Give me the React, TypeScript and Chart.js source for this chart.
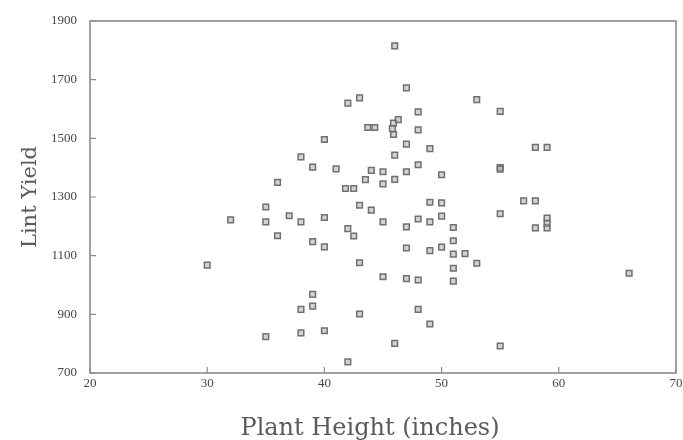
import { useEffect, useRef } from 'react';
import { Chart, registerables } from 'chart.js';

Chart.register(...registerables);

const plantHeight = [
  46, 47, 42, 43, 53, 55, 48, 43.7, 44.3, 46.3, 45.9, 45.8, 45.9, 48, 47, 49, 58, 59, 46, 55,
  55, 48, 47, 50, 45, 44, 46, 45, 43.5, 41.8, 42.5, 41, 40, 38, 39, 36, 43, 44, 35, 35,
  32, 37, 38, 40, 36, 39, 40, 42, 42.5, 30, 43, 39, 39, 38, 43, 35, 38, 40, 42, 45,
  47, 49, 50, 48, 49, 50, 51, 55, 57, 58, 59, 59, 59, 58, 51, 51, 50, 49, 47, 52,
  53, 51, 51, 45, 47, 48, 66, 48, 49, 46, 55,
];
const lintYield = [
  1815, 1672, 1620, 1638, 1632, 1592, 1590, 1537, 1537, 1564, 1552, 1533, 1513, 1529, 1480, 1465, 1469, 1469, 1443, 1400,
  1395, 1410, 1386, 1376, 1386, 1391, 1360, 1345, 1359, 1329, 1329, 1396, 1496, 1437, 1402, 1350, 1272, 1255, 1266, 1215,
  1222, 1236, 1215, 1230, 1168, 1148, 1130, 1192, 1167, 1068, 1076, 968, 928, 917, 901, 824, 837, 844, 738, 1215,
  1198, 1282, 1280, 1225, 1215, 1235, 1196, 1243, 1287, 1287, 1228, 1210, 1195, 1195, 1151, 1105, 1129, 1117, 1126, 1107,
  1074, 1057, 1013, 1028, 1022, 1017, 1040, 917, 867, 801, 792,
];
const xTicks = [20, 30, 40, 50, 60, 70];
const yTicks = [700, 900, 1100, 1300, 1500, 1700, 1900];
const xTitle = 'Plant Height (inches)';
const yTitle = 'Lint Yield';

const framePlugin = {
  id: 'frameTicks',
  beforeDatasetsDraw(chart: any) {
    const { ctx, chartArea: a, scales } = chart;
    ctx.save();
    ctx.strokeStyle = '#8c8c8c';
    ctx.lineWidth = 1.6;
    ctx.strokeRect(a.left, a.top, a.right - a.left, a.bottom - a.top);
    ctx.lineWidth = 1.2;
    ctx.beginPath();
    yTicks.forEach((v) => {
      const y = scales.y.getPixelForValue(v);
      ctx.moveTo(a.left, y);
      ctx.lineTo(a.left + 6, y);
    });
    xTicks.forEach((v) => {
      const x = scales.x.getPixelForValue(v);
      ctx.moveTo(x, a.bottom);
      ctx.lineTo(x, a.bottom - 6);
    });
    ctx.stroke();
    ctx.restore();
  },
  afterDraw(chart: any) {
    const { ctx } = chart;
    ctx.save();
    ctx.fillStyle = '#5a5a5a';
    ctx.font = '24px "DejaVu Serif"';
    ctx.textAlign = 'center';
    ctx.textBaseline = 'middle';
    ctx.fillText(xTitle, 370, 429);
    ctx.restore();
  },
};

export default function App() {
  const ref = useRef<HTMLCanvasElement>(null);
  useEffect(() => {
    if (!ref.current) return;
    const points = plantHeight.map((x, i) => ({ x, y: lintYield[i] }));
    const chart = new Chart(ref.current, {
      type: 'scatter',
      data: {
        datasets: [
          {
            data: points,
            pointStyle: 'rect',
            pointRadius: 4,
            pointBorderWidth: 1.5,
            pointBorderColor: '#707070',
            pointBackgroundColor: 'rgba(175,175,175,0.55)',
          },
        ],
      },
      options: {
        animation: false,
        responsive: false,
        devicePixelRatio: 1,
        layout: { padding: { top: 21, right: 7, left: 0, bottom: 0 } },
        plugins: { legend: { display: false }, tooltip: { enabled: false } },
        scales: {
          x: {
            type: 'linear',
            min: 20,
            max: 70,
            grid: { display: false, drawTicks: false },
            border: { display: false },
            afterBuildTicks: (s: any) => {
              s.ticks = xTicks.map((v) => ({ value: v }));
            },
            afterFit: (s: any) => {
              s.height = 67;
              s.paddingLeft = 0;
              s.paddingRight = 0;
            },
            ticks: {
              padding: 3,
              maxRotation: 0,
              autoSkip: false,
              color: '#444',
              font: { family: 'Liberation Serif', size: 13 },
              callback: (v: any) => String(v),
            },
          },
          y: {
            type: 'linear',
            min: 700,
            max: 1900,
            grid: { display: false, drawTicks: false },
            border: { display: false },
            afterBuildTicks: (s: any) => {
              s.ticks = yTicks.map((v) => ({ value: v }));
            },
            afterFit: (s: any) => {
              s.width = 90;
              s.paddingTop = 0;
              s.paddingBottom = 0;
            },
            ticks: {
              padding: 13,
              autoSkip: false,
              color: '#444',
              font: { family: 'Liberation Serif', size: 13 },
              callback: (v: any) => String(v),
            },
            title: {
              display: true,
              text: yTitle,
              color: '#5a5a5a',
              font: { family: 'DejaVu Serif', size: 21, lineHeight: 1 },
              padding: { top: 20, bottom: 0 },
            },
          },
        },
      },
      plugins: [framePlugin],
    });
    return () => chart.destroy();
  }, []);
  return (
    <div style={{ position: 'fixed', left: 0, top: 0, width: 683, height: 440, background: '#fff' }}>
      <canvas ref={ref} width={683} height={440} />
    </div>
  );
}
